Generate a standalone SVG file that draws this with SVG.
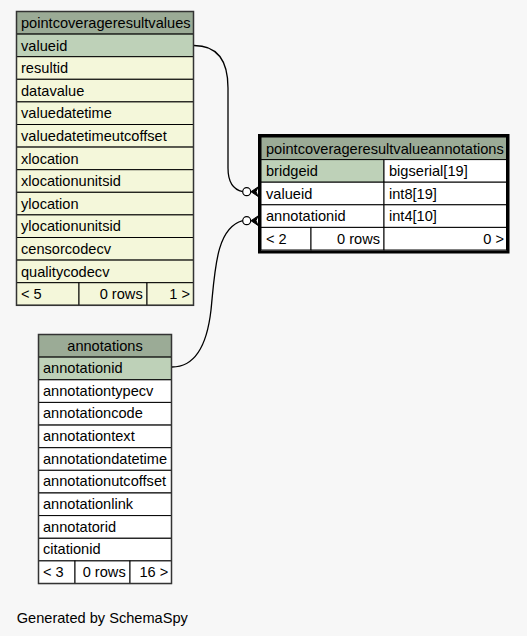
<svg xmlns="http://www.w3.org/2000/svg" width="527" height="636" viewBox="0 0 527 636">
<style>
text{font-family:"Liberation Sans",Arial,Helvetica,sans-serif;font-size:14.6px;fill:#000}
.hd{fill:#9bab96;stroke:#000;stroke-width:1}
.pk{fill:#bed1b8;stroke:#000;stroke-width:1}
.yr{fill:#f4f7da;stroke:#000;stroke-width:1}
.wr{fill:#ffffff;stroke:#000;stroke-width:1}
.ob{fill:none;stroke:#333;stroke-width:1.5}
.sel{fill:none;stroke:#000;stroke-width:3}
.r{text-anchor:end}
.m{text-anchor:middle}
.edge{fill:none;stroke:#000;stroke-width:1.3}
.dot{fill:#fff;stroke:#000;stroke-width:1.2}
.crow{fill:#000;stroke:#000;stroke-width:1}
</style>
<rect x="0" y="0" width="527" height="636" fill="#f7f7f7"/>

<g id="connectors">
<path class="edge" d="M194,45.5 C216,45.5 228,58 228,88 L228,168 C228,184 235,190 242.7,191.7"/>
<circle class="dot" cx="246.7" cy="191.7" r="4"/>
<polygon class="crow" points="258,187 251,191.7 258,196.4 256,191.7"/>
<path class="edge" d="M172,367 C195,367 207,345 211,310 C215,270 216,228 242.7,220.7"/>
<circle class="dot" cx="246.7" cy="220.7" r="4"/>
<polygon class="crow" points="258,216 251,220.7 258,225.4 256,220.7"/>
</g>

<g id="pointcoverageresultvalues">
<rect class="hd" x="16.5" y="11.5" width="177" height="22.6"/>
<rect class="pk" x="16.5" y="34.1" width="177" height="22.6"/>
<rect class="yr" x="16.5" y="56.7" width="177" height="22.6"/>
<rect class="yr" x="16.5" y="79.3" width="177" height="22.6"/>
<rect class="yr" x="16.5" y="101.9" width="177" height="22.6"/>
<rect class="yr" x="16.5" y="124.5" width="177" height="22.6"/>
<rect class="yr" x="16.5" y="147.1" width="177" height="22.6"/>
<rect class="yr" x="16.5" y="169.7" width="177" height="22.6"/>
<rect class="yr" x="16.5" y="192.3" width="177" height="22.6"/>
<rect class="yr" x="16.5" y="214.9" width="177" height="22.6"/>
<rect class="yr" x="16.5" y="237.5" width="177" height="22.6"/>
<rect class="yr" x="16.5" y="260.1" width="177" height="22.6"/>
<rect class="yr" x="16.5" y="282.7" width="62.5" height="22.6"/>
<rect class="yr" x="79" y="282.7" width="68" height="22.6"/>
<rect class="yr" x="147" y="282.7" width="46.5" height="22.6"/>
<rect class="ob" x="16.5" y="11.5" width="177" height="293.8"/>
<text x="21" y="28">pointcoverageresultvalues</text>
<text x="21" y="50.6">valueid</text>
<text x="21" y="73.2">resultid</text>
<text x="21" y="95.8">datavalue</text>
<text x="21" y="118.4">valuedatetime</text>
<text x="21" y="141">valuedatetimeutcoffset</text>
<text x="21" y="163.6">xlocation</text>
<text x="21" y="186.2">xlocationunitsid</text>
<text x="21" y="208.8">ylocation</text>
<text x="21" y="231.4">ylocationunitsid</text>
<text x="21" y="254">censorcodecv</text>
<text x="21" y="276.6">qualitycodecv</text>
<text x="21" y="299.2">&lt; 5</text>
<text class="r" x="142.7" y="299.2">0 rows</text>
<text class="r" x="190" y="299.2">1 &gt;</text>
</g>

<g id="pointcoverageresultvalueannotations">
<rect class="hd" x="261" y="137" width="245.5" height="22.6"/>
<rect class="pk" x="261" y="159.6" width="123" height="22.6"/>
<rect class="wr" x="384" y="159.6" width="122.5" height="22.6"/>
<rect class="wr" x="261" y="182.2" width="123" height="22.6"/>
<rect class="wr" x="384" y="182.2" width="122.5" height="22.6"/>
<rect class="wr" x="261" y="204.8" width="123" height="22.6"/>
<rect class="wr" x="384" y="204.8" width="122.5" height="22.6"/>
<rect class="wr" x="261" y="227.4" width="50" height="22.6"/>
<rect class="wr" x="311" y="227.4" width="73" height="22.6"/>
<rect class="wr" x="384" y="227.4" width="122.5" height="22.6"/>
<rect class="sel" x="259.5" y="135.5" width="248.5" height="116.5"/>
<text x="266" y="153.5">pointcoverageresultvalueannotations</text>
<text x="266" y="176">bridgeid</text>
<text x="389" y="176">bigserial[19]</text>
<text x="266" y="198.6">valueid</text>
<text x="389" y="198.6">int8[19]</text>
<text x="266" y="221.2">annotationid</text>
<text x="389" y="221.2">int4[10]</text>
<text x="266" y="243.8">&lt; 2</text>
<text class="r" x="380" y="243.8">0 rows</text>
<text class="r" x="504" y="243.8">0 &gt;</text>
</g>

<g id="annotations">
<rect class="hd" x="38.5" y="334.5" width="133" height="22.64"/>
<rect class="pk" x="38.5" y="357.1" width="133" height="22.64"/>
<rect class="wr" x="38.5" y="379.8" width="133" height="22.64"/>
<rect class="wr" x="38.5" y="402.4" width="133" height="22.64"/>
<rect class="wr" x="38.5" y="425.1" width="133" height="22.64"/>
<rect class="wr" x="38.5" y="447.7" width="133" height="22.64"/>
<rect class="wr" x="38.5" y="470.3" width="133" height="22.64"/>
<rect class="wr" x="38.5" y="493" width="133" height="22.64"/>
<rect class="wr" x="38.5" y="515.6" width="133" height="22.64"/>
<rect class="wr" x="38.5" y="538.3" width="133" height="22.64"/>
<rect class="wr" x="38.5" y="560.9" width="36.5" height="22.64"/>
<rect class="wr" x="75" y="560.9" width="55" height="22.64"/>
<rect class="wr" x="130" y="560.9" width="41.5" height="22.64"/>
<rect class="ob" x="38.5" y="334.5" width="133" height="249"/>
<text class="m" x="105" y="350.5">annotations</text>
<text x="43" y="373.1">annotationid</text>
<text x="43" y="395.8">annotationtypecv</text>
<text x="43" y="418.4">annotationcode</text>
<text x="43" y="441.1">annotationtext</text>
<text x="43" y="463.7">annotationdatetime</text>
<text x="43" y="486.3">annotationutcoffset</text>
<text x="43" y="509">annotationlink</text>
<text x="43" y="531.6">annotatorid</text>
<text x="43" y="554.3">citationid</text>
<text x="43" y="576.9">&lt; 3</text>
<text class="r" x="125.7" y="576.9">0 rows</text>
<text class="r" x="168.3" y="576.9">16 &gt;</text>
</g>

<text x="16.7" y="623">Generated by SchemaSpy</text>
</svg>
